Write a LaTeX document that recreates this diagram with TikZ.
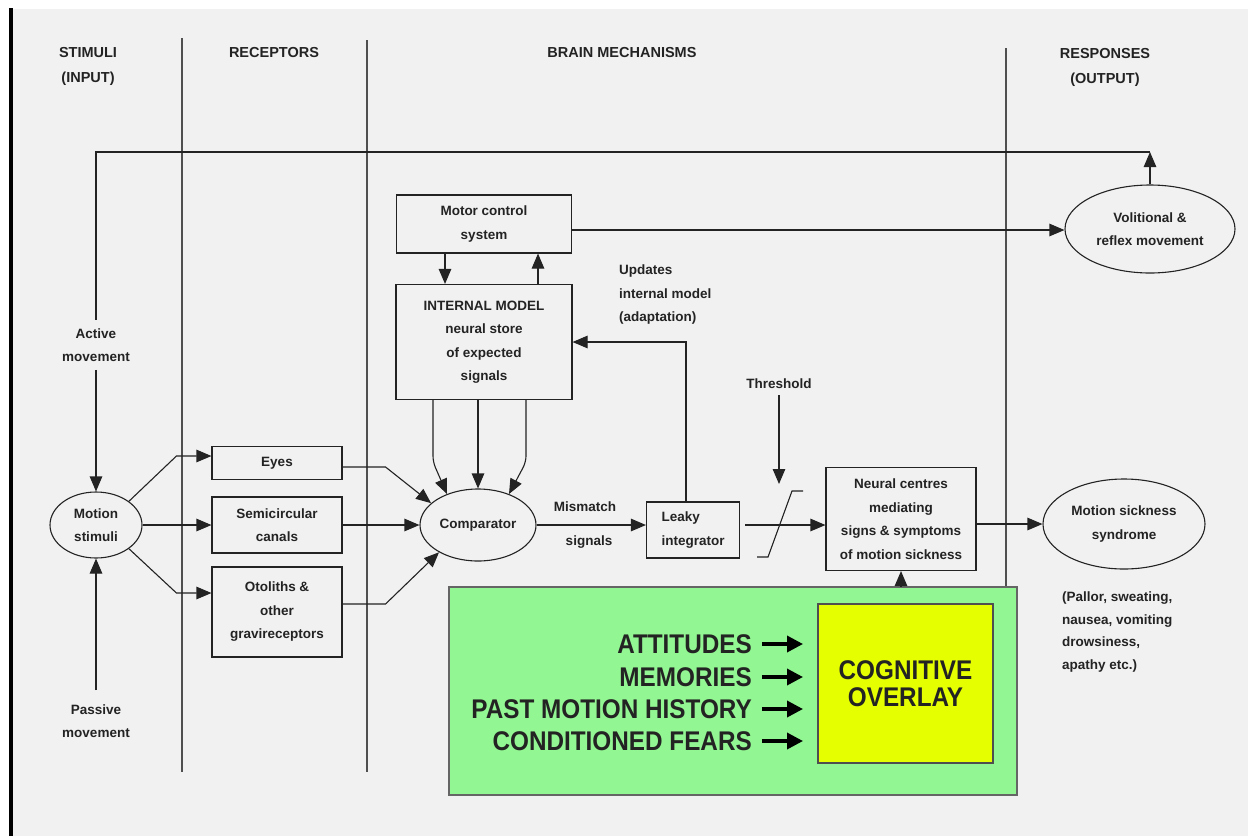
\documentclass[tikz,border=0pt]{standalone}
\usepackage{fontspec}
\setmainfont{Liberation Sans}
\newfontfamily\narrowsans[FakeStretch=0.9]{Liberation Sans}
\usepackage{xcolor}
\usepackage{tikz}
\usetikzlibrary{arrows.meta, shapes.geometric, positioning}

\definecolor{paper}{RGB}{241,241,241}
\definecolor{ink}{RGB}{35,35,35}
\definecolor{overlaygreen}{RGB}{146,246,146}
\definecolor{overlayyellow}{RGB}{230,255,0}

\begin{document}
\begin{tikzpicture}[x=1pt, y=-1pt,
  font=\fontsize{13.5}{23.5}\selectfont\bfseries, text=ink,
  every node/.style={align=center, inner sep=0pt},
  >={Triangle[length=15pt,width=12.5pt]},
  wire/.style={draw=ink, line width=1.1pt},
  box/.style={draw=ink, line width=1.1pt, rectangle},
  oval/.style={draw=ink, line width=1.1pt, ellipse},
  divider/.style={draw=ink!80, line width=1.2pt},
  header/.style={font=\fontsize{14.5}{25}\selectfont\bfseries},
  factor/.style={font=\narrowsans\bfseries\fontsize{27}{28}\selectfont, anchor=east},
  fat/.style={draw=black, line width=3.5pt, -{Triangle[length=16pt,width=16pt]}}]

  % page
  \useasboundingbox (0,0) rectangle (1248,836);
  \fill[paper] (12,9) rectangle (1248,836);
  \draw[line width=3.5pt] (11,8) -- (11,836);

  % column dividers
  \foreach \xx/\ytop/\ybot in {182/38/772, 367/40/772, 1006/48/587}{
    \draw[divider] (\xx,\ytop) -- (\xx,\ybot);
  }

  % column headings
  \node[header] (hstim) at (88,66) {STIMULI\\(INPUT)};
  \node[header] (hrec) at (274,53) {RECEPTORS};
  \node[header] (hbrain) at (622,53) {BRAIN MECHANISMS};
  \node[header] (hresp) at (1105,67) {RESPONSES\\(OUTPUT)};

  % stimuli
  \node[oval, minimum width=92, minimum height=66] (motion) at (96,525) {Motion\\stimuli};
  \node[inner sep=8pt] (active) at (96,345) {Active\\movement};
  \node (passive) at (96,721) {Passive\\movement};

  % receptors
  \node[box, minimum width=130, minimum height=33] (eyes) at (277,463) {Eyes};
  \node[box, minimum width=130, minimum height=56] (semi) at (277,525) {Semicircular\\canals};
  \node[box, minimum width=130, minimum height=90] (oto) at (277,612) {Otoliths \&\\other\\gravireceptors};

  % brain mechanisms
  \node[box, minimum width=175, minimum height=58] (motor) at (484,224) {Motor control\\system};
  \node[box, minimum width=176, minimum height=115] (intmodel) at (484,342) {INTERNAL MODEL\\neural store\\of expected\\signals};
  \node[oval, minimum width=116, minimum height=72] (comp) at (478,525) {Comparator};
  \node[box, minimum width=93, minimum height=56, align=left] (leaky) at (693,530) {Leaky\\integrator};
  \node[box, minimum width=150, minimum height=103] (neural) at (901,519) {Neural centres\\mediating\\signs \& symptoms\\of motion sickness};

  \node (mism) at (585,507) {Mismatch};
  \node (sigs) at (589,542) {signals};
  \node[anchor=west, align=left] (updates) at (619,295) {Updates\\internal model\\(adaptation)};
  \node (thresh) at (779,384) {Threshold};
  \coordinate (thrtip) at (779,484);
  \coordinate (limiter) at (780,524);

  % responses
  \node[oval, minimum width=170, minimum height=88] (volit) at (1150,229) {Volitional \&\\reflex movement};
  \node[oval, minimum width=162, minimum height=90] (syndrome) at (1124,524) {Motion sickness\\syndrome};
  \node[anchor=west, align=left, font=\fontsize{13.5}{22.4}\selectfont\bfseries] (signs) at (1062,632) {(Pallor, sweating,\\ nausea, vomiting\\drowsiness,\\apathy etc.)};

  % cognitive overlay
  \node[draw=ink!70, line width=1.5pt, fill=overlaygreen, minimum width=568, minimum height=208] (cogbox) at (733,691) {};
  \node[draw=ink!80, line width=2pt, fill=overlayyellow, minimum width=175, minimum height=159,
    font=\narrowsans\bfseries\fontsize{27}{27}\selectfont] (cognitive) at (905.5,683.5) {COGNITIVE\\OVERLAY};
  \foreach \fname/\ftext/\fy in {att/ATTITUDES/644, mem/MEMORIES/677, past/PAST MOTION HISTORY/709, fear/CONDITIONED FEARS/741}{
    \node[factor] (\fname) at (752,\fy) {\ftext};
    \draw[fat] ([xshift=10pt]\fname.east) -- ++(41,0);
  }

  % feedback loop over the top
  \coordinate (loopR) at (1150,152);
  \coordinate (loopL) at (96,152);
  \draw[wire, ->] (volit.north) -- (loopR);
  \draw[wire] (loopR) -- (loopL) -- (active.north);
  \draw[wire, ->] (active.south) -- (motion.north);
  \draw[wire, ->] ([yshift=14pt]passive.north) -- (motion.south);

  % stimuli to receptors
  \draw[wire, ->] (motion.north east) -- ([xshift=-35pt,yshift=7pt]eyes.west) -- ([yshift=7pt]eyes.west);
  \draw[wire, ->] (motion.east) -- (semi.west);
  \draw[wire, ->] (motion.south east) -- ([xshift=-35pt,yshift=19pt]oto.west) -- ([yshift=19pt]oto.west);

  % receptors to comparator
  \draw[wire, ->] ([yshift=-4pt]eyes.east) -- ++(43,0) -- (comp.155);
  \draw[wire, ->] (semi.east) -- (comp.west);
  \draw[wire, ->] ([yshift=8pt]oto.east) -- ++(43,0) -- (comp.215);

  % expected signals
  \draw[wire, ->, rounded corners=6pt] ([xshift=-51pt]intmodel.south) -- ++(0,62) -- (comp.135);
  \draw[wire, ->] ([xshift=-6pt]intmodel.south) -- (comp.north);
  \draw[wire, ->, rounded corners=6pt] ([xshift=42pt]intmodel.south) -- ++(0,62) -- (comp.45);

  % motor control
  \draw[wire, ->] ([xshift=-39pt]motor.south) -- ([xshift=-39pt]intmodel.north);
  \draw[wire, ->] ([xshift=54pt]intmodel.north) -- ([xshift=54pt]motor.south);
  \draw[wire, ->] ([yshift=-6pt]motor.east) -- ([yshift=-6pt]motor.east -| volit.west);

  % mismatch path
  \draw[wire, ->] (comp.east) -- (comp.east -| leaky.west);
  \draw[wire, ->] ([xshift=-7pt]leaky.north) |- (intmodel.east);
  \draw[wire, ->] ([shift={(5pt,5pt)}]leaky.east) -- (comp.east -| neural.west);

  % threshold
  \draw[wire, ->] ([yshift=-6pt]thresh.south) -- (thrtip);
  \draw[wire] (limiter) ++(-23,33) -- ++(11,0) -- ++(24,-66) -- ++(11,0);

  % outputs
  \draw[wire, ->] ([yshift=-5pt]neural.east) -- (syndrome.west);
  \draw[wire, ->] (neural.south |- cogbox.north) -- (neural.south);

\end{tikzpicture}
\end{document}
